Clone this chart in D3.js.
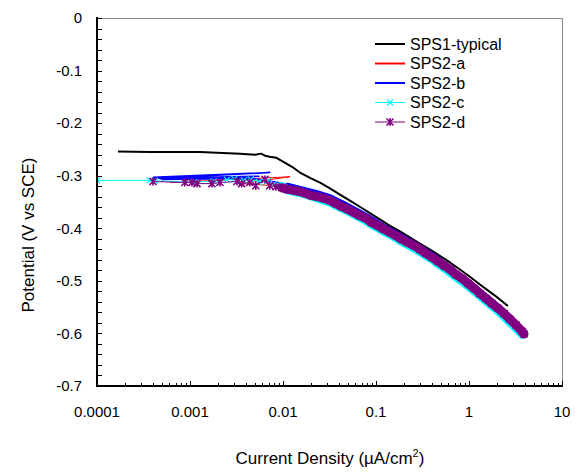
<!DOCTYPE html>
<html>
<head>
<meta charset="utf-8">
<script src="https://cdn.jsdelivr.net/npm/d3@7"></script>
<style>
  body { margin: 0; background: #fff; }
  svg text { font-family: "Liberation Sans", Arial, sans-serif; fill: #000; }
</style>
</head>
<body>
<div id="chart"></div>
<script>
// [current density (uA/cm2), potential (V vs SCE)]
var sps1Typical = [
  [0.000168, -0.254], [0.00037, -0.255], [0.00128, -0.255], [0.00345, -0.258],
  [0.0050, -0.260], [0.0058, -0.258], [0.0064, -0.262], [0.0072, -0.264],
  [0.0085, -0.266], [0.010, -0.273], [0.0125, -0.283], [0.0152, -0.294],
  [0.020, -0.305], [0.025, -0.313], [0.032, -0.324], [0.041, -0.336],
  [0.053, -0.348], [0.067, -0.359], [0.086, -0.371], [0.110, -0.383],
  [0.14, -0.395], [0.181, -0.406], [0.297, -0.429], [0.41, -0.444],
  [0.625, -0.465], [0.95, -0.488], [1.31, -0.507], [1.9, -0.528], [2.62, -0.548]
];

var sps2a = [
  [0.00061, -0.313], [0.0119, -0.302], [0.0035, -0.315], [0.0082, -0.319],
  [0.0113, -0.325], [0.016, -0.331], [0.023, -0.339], [0.032, -0.347],
  [0.045, -0.361], [0.062, -0.373], [0.086, -0.387], [0.12, -0.402],
  [0.165, -0.415], [0.225, -0.429], [0.30, -0.442], [0.41, -0.457],
  [0.56, -0.474], [0.76, -0.492], [1.02, -0.509], [1.37, -0.528],
  [1.85, -0.547], [2.5, -0.568], [3.35, -0.590], [3.7, -0.597]
];

var sps2b = [
  [0.0004, -0.303], [0.0072, -0.294], [0.0004, -0.305], [0.0055, -0.301],
  [0.0005, -0.307], [0.0045, -0.305], [0.009, -0.313], [0.0113, -0.321],
  [0.016, -0.328], [0.023, -0.335], [0.032, -0.343], [0.045, -0.356],
  [0.062, -0.369], [0.086, -0.383], [0.12, -0.399], [0.165, -0.412],
  [0.225, -0.426], [0.30, -0.439], [0.41, -0.454], [0.56, -0.472],
  [0.76, -0.490], [1.02, -0.507], [1.37, -0.526], [1.85, -0.545],
  [2.5, -0.566], [3.35, -0.589], [3.8, -0.598]
];

var sps2c = [
  [0.0001, -0.309], [0.00037, -0.309], [0.00042, -0.310], [0.0011, -0.312],
  [0.0018, -0.311], [0.0025, -0.308], [0.0030, -0.306], [0.0038, -0.309],
  [0.0045, -0.307], [0.0055, -0.312], [0.0068, -0.310], [0.0080, -0.316],
  [0.0095, -0.320], [0.0113, -0.327], [0.0135, -0.330], [0.016, -0.333],
  [0.019, -0.337], [0.023, -0.342], [0.027, -0.346], [0.032, -0.350],
  [0.038, -0.357], [0.045, -0.363], [0.053, -0.369], [0.062, -0.376],
  [0.073, -0.382], [0.086, -0.390], [0.10, -0.397], [0.12, -0.405],
  [0.14, -0.411], [0.165, -0.418], [0.19, -0.425], [0.225, -0.432],
  [0.26, -0.438], [0.30, -0.445], [0.35, -0.452], [0.41, -0.460],
  [0.48, -0.469], [0.56, -0.477], [0.65, -0.486], [0.76, -0.495],
  [0.88, -0.503], [1.02, -0.512], [1.18, -0.521], [1.37, -0.531],
  [1.6, -0.541], [1.85, -0.550], [2.15, -0.560], [2.5, -0.571],
  [2.9, -0.582], [3.35, -0.593], [3.75, -0.602]
];

var sps2d = [
  [0.0004, -0.311], [0.00088, -0.313], [0.00105, -0.313], [0.00119, -0.315],
  [0.00172, -0.315], [0.0021, -0.313], [0.0032, -0.311], [0.0036, -0.315],
  [0.0044, -0.313], [0.0051, -0.319], [0.0064, -0.307], [0.0072, -0.319],
  [0.0084, -0.321], [0.0097, -0.323], [0.0113, -0.326], [0.013, -0.328],
  [0.0152, -0.330], [0.0177, -0.334], [0.0205, -0.338], [0.0238, -0.340],
  [0.0275, -0.343], [0.032, -0.347], [0.037, -0.353], [0.043, -0.359],
  [0.050, -0.364], [0.058, -0.370], [0.067, -0.376], [0.078, -0.381],
  [0.090, -0.389], [0.105, -0.395], [0.122, -0.402], [0.142, -0.408],
  [0.164, -0.414], [0.19, -0.421], [0.22, -0.427], [0.257, -0.433],
  [0.297, -0.440], [0.345, -0.448], [0.40, -0.455], [0.465, -0.463],
  [0.54, -0.471], [0.625, -0.478], [0.725, -0.488], [0.84, -0.495],
  [0.98, -0.505], [1.13, -0.514], [1.31, -0.524], [1.52, -0.533],
  [1.77, -0.543], [2.05, -0.552], [2.38, -0.562], [2.76, -0.573],
  [3.2, -0.584], [3.72, -0.596], [3.9, -0.601]
];

var seriesNames = ["SPS1-typical", "SPS2-a", "SPS2-b", "SPS2-c", "SPS2-d"];
var xTickValues = [0.0001, 0.001, 0.01, 0.1, 1, 10];
var xTickLabels = ["0.0001", "0.001", "0.01", "0.1", "1", "10"];
var yTickValues = [0, -0.1, -0.2, -0.3, -0.4, -0.5, -0.6, -0.7];
var yTickLabels = ["0", "-0.1", "-0.2", "-0.3", "-0.4", "-0.5", "-0.6", "-0.7"];

// band: where the dense scan markers pile up into a solid stripe
var bandStart = 0.0095

var series = [
  {name: seriesNames[0], data: sps1Typical, color: "#000000", width: 2, marker: null, band: 0},
  {name: seriesNames[1], data: sps2a, color: "#ff0000", width: 1, marker: null, band: 0},
  {name: seriesNames[2], data: sps2b, color: "#0000ff", width: 1.6, marker: null, band: 8},
  {name: seriesNames[3], data: sps2c, color: "#00ffff", width: 1, marker: "x", band: 9},
  {name: seriesNames[4], data: sps2d, color: "#800080", width: 1, marker: "star", band: 9}
]

var W = 583, H = 472
var margin = {left: 97, top: 18, right: 21, bottom: 86}
var w = W - margin.left - margin.right
var h = H - margin.top - margin.bottom

var svg = d3.select('#chart').append('svg').attr('width', W).attr('height', H)
var g = svg.append('g').attr('transform', 'translate(' + margin.left + ',' + margin.top + ')')

var x = d3.scaleLog().domain([0.0001, 10]).range([0, w])
var y = d3.scaleLinear().domain([-0.7, 0]).range([h, 0])

g.append('clipPath').attr('id', 'clip')
  .append('rect').attr('width', w).attr('height', h)

// frame (top/right thin grey)
g.append('path')
  .attr('d', 'M0,0.5H' + (w + 0.5) + 'V' + h)
  .attr('fill', 'none').attr('stroke', '#888').attr('stroke-width', 1)

var line = d3.line().x(function(d){ return x(d[0]) }).y(function(d){ return y(d[1]) })

var plot = g.append('g').attr('clip-path', 'url(#clip)')

function drawMarker(sel, type, color){
  var s = type == 'x' ? 3 : 3.5
  var p = 'M' + (-s) + ',' + (-s) + 'L' + s + ',' + s + 'M' + (-s) + ',' + s + 'L' + s + ',' + (-s)
  if (type == 'star') p += 'M0,' + (-s - 0.5) + 'L0,' + (s + 0.5)
  sel.append('path').attr('d', p).attr('fill', 'none')
    .attr('stroke', color).attr('stroke-width', type == 'x' ? 1.2 : 1.6)
}

series.forEach(function(s){
  if (s.band){
    plot.append('path')
      .attr('d', line(s.data.filter(function(d){ return d[0] >= bandStart })))
      .attr('fill', 'none')
      .attr('stroke', s.color)
      .attr('stroke-width', s.band)
      .attr('stroke-linejoin', 'round')
      .attr('stroke-linecap', 'round')
  }
  plot.append('path')
    .attr('d', line(s.data))
    .attr('fill', 'none')
    .attr('stroke', s.color)
    .attr('stroke-width', s.width)
    .attr('stroke-linejoin', 'round')
  if (s.marker){
    s.data.forEach(function(d){
      var m = plot.append('g').attr('transform', 'translate(' + x(d[0]) + ',' + y(d[1]) + ')')
      drawMarker(m, s.marker, s.color)
    })
  }
})

// y axis
var yMinor = d3.range(0, 36).map(function(i){ return -i * 0.02 })
g.append('g').selectAll('line').data(yMinor).enter().append('line')
  .attr('x1', 0).attr('x2', 5)
  .attr('y1', function(d){ return Math.round(y(d)) + 0.5 })
  .attr('y2', function(d){ return Math.round(y(d)) + 0.5 })
  .attr('stroke', '#000').attr('stroke-width', 1)

g.append('g').selectAll('text').data(yTickValues).enter().append('text')
  .attr('x', -15).attr('y', function(d){ return y(d) })
  .attr('dy', '0.35em').attr('text-anchor', 'end')
  .style('font-size', '15px')
  .text(function(d, i){ return yTickLabels[i] })

// x axis
var xMinor = []
for (var e = -4; e < 1; e++){
  for (var k = 2; k <= 9; k++) xMinor.push(k * Math.pow(10, e))
}
g.append('g').selectAll('line').data(xMinor).enter().append('line')
  .attr('x1', function(d){ return Math.round(x(d)) + 0.5 })
  .attr('x2', function(d){ return Math.round(x(d)) + 0.5 })
  .attr('y1', h).attr('y2', h - 3)
  .attr('stroke', '#000').attr('stroke-width', 1)
g.append('g').selectAll('line').data(xTickValues).enter().append('line')
  .attr('x1', function(d){ return Math.round(x(d)) + 0.5 })
  .attr('x2', function(d){ return Math.round(x(d)) + 0.5 })
  .attr('y1', h).attr('y2', h - 5)
  .attr('stroke', '#000').attr('stroke-width', 1)

g.append('g').selectAll('text').data(xTickValues).enter().append('text')
  .attr('x', function(d){ return x(d) }).attr('y', h + 31)
  .attr('text-anchor', 'middle')
  .style('font-size', '15px')
  .text(function(d, i){ return xTickLabels[i] })

// axis lines
g.append('line').attr('x1', 0).attr('x2', 0).attr('y1', -1).attr('y2', h + 1)
  .attr('stroke', '#000').attr('stroke-width', 2)
g.append('line').attr('x1', -1).attr('x2', w + 1).attr('y1', h).attr('y2', h)
  .attr('stroke', '#000').attr('stroke-width', 2)

// titles
var xt = svg.append('text')
  .attr('x', 330).attr('y', 464)
  .attr('text-anchor', 'middle')
  .style('font-size', '17px')
xt.append('tspan').text('Current Density (\u00b5A/cm')
xt.append('tspan').attr('dy', -7).style('font-size', '11px').text('2')
xt.append('tspan').attr('dy', 7).text(')')

svg.append('text')
  .attr('transform', 'translate(34,235) rotate(-90)')
  .attr('text-anchor', 'middle')
  .style('font-size', '17px')
  .text('Potential (V vs SCE)')

// legend
var legend = svg.append('g').attr('transform', 'translate(375,44)')
series.forEach(function(s, i){
  var row = legend.append('g').attr('transform', 'translate(0,' + (i * 19.5) + ')')
  row.append('line').attr('x1', 0).attr('x2', 30).attr('y1', 0).attr('y2', 0)
    .attr('stroke', s.color).attr('stroke-width', s.width == 2 ? 2 : (s.marker ? 1 : 2))
  if (s.marker){
    var m = row.append('g').attr('transform', 'translate(15,0)')
    drawMarker(m, s.marker, s.color)
  }
  row.append('text').attr('x', 35).attr('y', 0).attr('dy', '0.35em')
    .style('font-size', '16px')
    .text(s.name)
})
</script>
</body>
</html>
